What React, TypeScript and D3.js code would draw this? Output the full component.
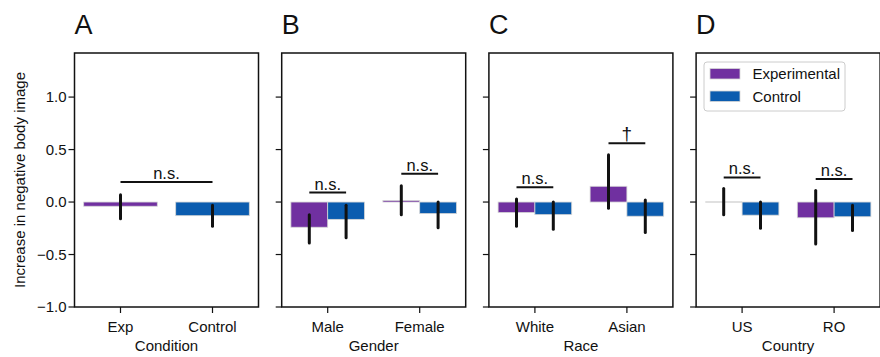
import React, { useEffect } from 'react';
import * as d3 from 'd3';

// panel meta
const panelLetters = ['A', 'B', 'C', 'D'];
const axisTitles = ['Condition', 'Gender', 'Race', 'Country'];
const categories = [
  ['Exp', 'Control'],
  ['Male', 'Female'],
  ['White', 'Asian'],
  ['US', 'RO'],
];
const yTicks = [-1.0, -0.5, 0.0, 0.5, 1.0];

// panel A: one bar per category (Exp = experimental, Control = control)
const condMeans = [-0.04, -0.13];
const condLo = [-0.16, -0.23];
const condHi = [0.07, -0.03];

// panels B-D: experimental vs control within each category
const expMeans = [[-0.24, 0.015], [-0.1, 0.15], [0.0, -0.15]];
const expLo = [[-0.39, -0.12], [-0.23, -0.06], [-0.12, -0.4]];
const expHi = [[-0.12, 0.155], [0.03, 0.45], [0.13, 0.11]];
const ctrlMeans = [[-0.165, -0.11], [-0.12, -0.135], [-0.125, -0.14]];
const ctrlLo = [[-0.34, -0.245], [-0.26, -0.29], [-0.25, -0.27]];
const ctrlHi = [[-0.03, 0.0], [0.0, 0.02], [0.0, -0.03]];

// significance markers per panel/category
const sigLabels = [['n.s.'], ['n.s.', 'n.s.'], ['n.s.', '†'], ['n.s.', 'n.s.']];
const sigLevels = [[0.19], [0.09, 0.27], [0.14, 0.56], [0.235, 0.22]];

const legendKeys = ['Experimental', 'Control'];

const EXP_COLOR = '#7030a0';
const CTRL_COLOR = '#0b5caf';
const EDGE = '#d6d6d6';
const INK = '#111';
const FONT = '"Liberation Sans", Arial, sans-serif';

const W = 880;
const H = 357;
const top = 53;
const bottom = 307;
const panelW = 184;
const firstLeft = 74.5;
const panelStep = 207.2;

export default function App() {
  useEffect(() => {
    document.body.style.margin = '0';
  }, []);

  const y = d3.scaleLinear().domain([-1, 1.42]).range([bottom, top]);
  const fmt = d3.format('.1f');
  const colors = [EXP_COLOR, CTRL_COLOR];

  const bar = (key: string, cx: number, w: number, mean: number, lo: number, hi: number, fill: string) => {
    const y0 = y(0);
    const y1 = y(mean);
    const h = Math.abs(y1 - y0);
    return (
      <g key={key}>
        {h < 0.5 ? (
          <line x1={cx - w / 2} x2={cx + w / 2} y1={y0} y2={y0} stroke={mean === 0 ? EDGE : fill} strokeWidth={1.5} />
        ) : (
          <rect x={cx - w / 2} y={Math.min(y0, y1)} width={w} height={h} fill={fill} stroke={EDGE} strokeWidth={0.8} />
        )}
        <line x1={cx} x2={cx} y1={y(lo)} y2={y(hi)} stroke={INK} strokeWidth={3} strokeLinecap="round" />
      </g>
    );
  };

  const sig = (key: string, x1: number, x2: number, level: number, label: string) => (
    <g key={key}>
      <line x1={x1} x2={x2} y1={y(level)} y2={y(level)} stroke={INK} strokeWidth={2} />
      <text
        x={(x1 + x2) / 2}
        y={y(level) - 3}
        textAnchor="middle"
        fontSize={label === '†' ? 19 : 16.5}
        fontFamily={FONT}
        fill={INK}
      >
        {label}
      </text>
    </g>
  );

  return (
    <svg width={W} height={H} style={{ display: 'block', background: '#fff' }}>
      <text
        transform={`translate(25,${(top + bottom) / 2}) rotate(-90)`}
        textAnchor="middle"
        fontSize={15}
        fontFamily={FONT}
        fill={INK}
      >
        Increase in negative body image
      </text>
      {panelLetters.map((letter, p) => {
        const left = firstLeft + p * panelStep;
        const right = left + panelW;
        const x = d3.scaleBand<string>().domain(categories[p]).range([left, right]).padding(0);
        const bw = x.bandwidth();
        const center = (c: string) => (x(c) as number) + bw / 2;
        const marks: React.ReactNode[] = [];
        if (p === 0) {
          categories[0].forEach((c, i) => {
            marks.push(bar(`a${i}`, center(c), bw * 0.8, condMeans[i], condLo[i], condHi[i], colors[i]));
          });
          marks.push(sig('sa', center(categories[0][0]), center(categories[0][1]), sigLevels[0][0], sigLabels[0][0]));
        } else {
          const k = p - 1;
          categories[p].forEach((c, i) => {
            const cx = center(c);
            const hw = bw * 0.4;
            marks.push(bar(`e${i}`, cx - hw / 2, hw, expMeans[k][i], expLo[k][i], expHi[k][i], EXP_COLOR));
            marks.push(bar(`c${i}`, cx + hw / 2, hw, ctrlMeans[k][i], ctrlLo[k][i], ctrlHi[k][i], CTRL_COLOR));
            marks.push(sig(`s${i}`, cx - hw / 2, cx + hw / 2, sigLevels[p][i], sigLabels[p][i]));
          });
        }
        return (
          <g key={letter}>
            <text x={left} y={34} fontSize={27} fontFamily={FONT} fill={INK}>
              {letter}
            </text>
            {marks}
            {/* frame */}
            <rect x={left} y={top} width={panelW} height={bottom - top} fill="none" stroke={INK} strokeWidth={1.5} />
            {yTicks.map(t => (
              <g key={t}>
                <line x1={left - 6} x2={left} y1={y(t)} y2={y(t)} stroke={INK} strokeWidth={1.2} />
                {p === 0 && (
                  <text x={left - 8} y={y(t)} dy="0.35em" textAnchor="end" fontSize={15} fontFamily={FONT} fill={INK}>
                    {fmt(t)}
                  </text>
                )}
              </g>
            ))}
            {categories[p].map(c => (
              <g key={c}>
                <line x1={center(c)} x2={center(c)} y1={bottom} y2={bottom + 6} stroke={INK} strokeWidth={1.2} />
                <text x={center(c)} y={332} textAnchor="middle" fontSize={15} fontFamily={FONT} fill={INK}>
                  {c}
                </text>
              </g>
            ))}
            <text x={(left + right) / 2} y={351} textAnchor="middle" fontSize={15} fontFamily={FONT} fill={INK}>
              {axisTitles[p]}
            </text>
            {p === 3 && (
              <g>
                <rect x={704} y={62} width={141} height={49} rx={3} fill="#fff" fillOpacity={0.8} stroke="#cccccc" strokeWidth={1} />
                {legendKeys.map((k, i) => (
                  <g key={k}>
                    <rect x={710} y={68.5 + i * 22.5} width={30} height={10.5} fill={colors[i]} stroke={EDGE} strokeWidth={0.8} />
                    <text x={752.5} y={74 + i * 22.5} dy="0.35em" fontSize={15} fontFamily={FONT} fill={INK}>
                      {k}
                    </text>
                  </g>
                ))}
              </g>
            )}
          </g>
        );
      })}
    </svg>
  );
}
